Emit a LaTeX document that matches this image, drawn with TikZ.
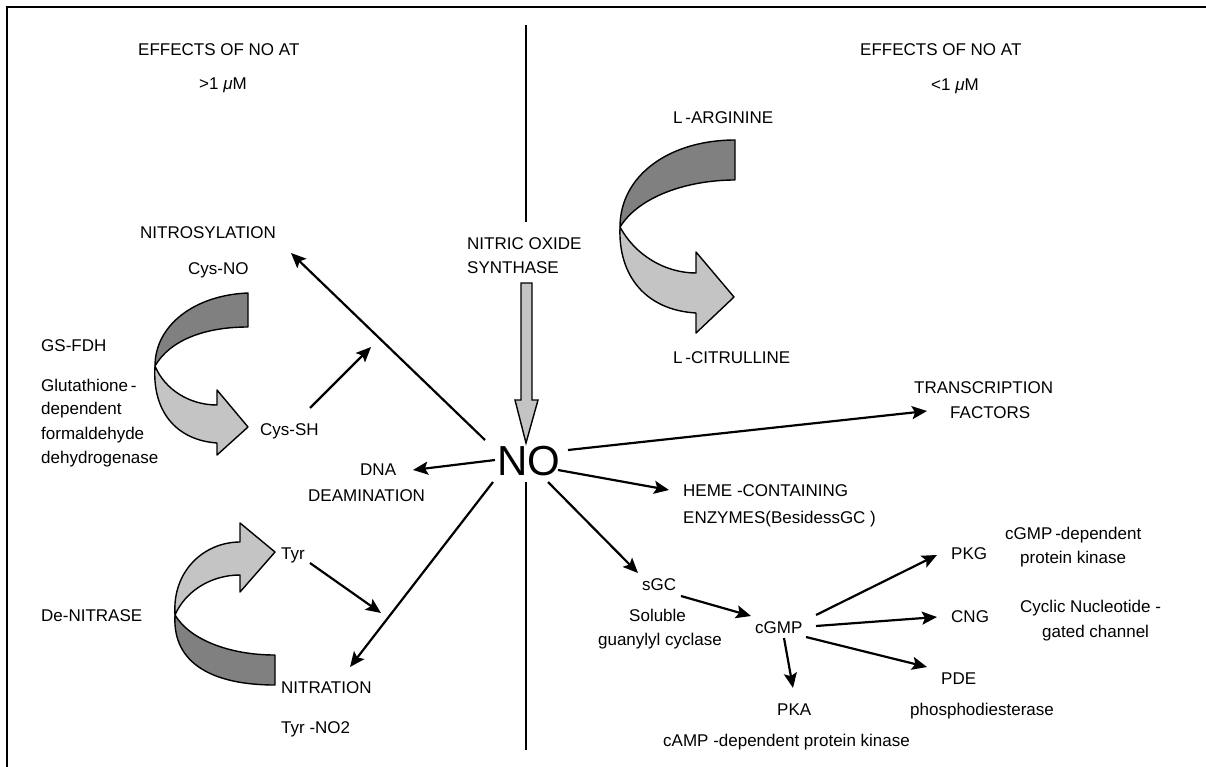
\documentclass[tikz,border=0pt]{standalone}
\usepackage{fontspec}
\setmainfont{Liberation Sans}
\usetikzlibrary{arrows.meta}
\definecolor{bandDark}{RGB}{128,128,128}
\definecolor{bandLight}{RGB}{196,196,196}
\tikzset{
  lbl/.style={inner sep=0pt, anchor=base west, font=\fontsize{17}{20}\selectfont},
  clbl/.style={inner sep=0pt, anchor=base, font=\fontsize{17}{20}\selectfont},
  conn/.style={line width=2.2pt, -{Stealth[length=15pt,width=13pt,inset=3pt]}},
  plain/.style={line width=2.2pt},
  band/.style={draw=black, line width=1.4pt, line join=round},
}
\begin{document}
\begin{tikzpicture}[x=1pt,y=-1pt]
\useasboundingbox (0,0) rectangle (1206,767);
% frame (top and left)
\draw[line width=1.5pt] (7,767) -- (7,7) -- (1206,7);
% central divider
\coordinate (vtop) at (526,25);
\coordinate (vmid) at (526,222);
\coordinate (vlow) at (526,482);
\coordinate (vbot) at (526,750);
\draw[plain] (vtop) -- (vmid);
\draw[plain] (vlow) -- (vbot);

% headings
\node[lbl] (effL) at (138,56) {EFFECTS OF NO AT};
\node[lbl] (concL) at (199,90) {>1 {\itshape μ}M};
\node[lbl] (effR) at (860,56) {EFFECTS OF NO AT};
\node[lbl] (concR) at (931,91) {<1 {\itshape μ}M};

% right top: arginine -> citrulline
\node[lbl] (arg) at (673,124) {L\,-ARGININE};
\node[lbl] (cit) at (673,363) {L\,-CITRULLINE};
\fill[bandDark] (735,140) .. controls (670,140) and (620,175) .. (620,227) .. controls (640,195) and (690,180) .. (735,180) -- cycle;
\draw[band] (735,140) .. controls (670,140) and (620,175) .. (620,227) .. controls (640,195) and (690,180) .. (735,180) -- cycle;
\filldraw[band, fill=bandLight] (620,227) .. controls (635,255) and (665,273) .. (696,273) -- (696,252) -- (734,297) -- (696,333) -- (696,313) .. controls (645,310) and (618,275) .. (620,227) -- cycle;

% NOS and NO
\node[lbl] (nos1) at (467,249) {NITRIC OXIDE};
\node[lbl] (nos2) at (467,273) {SYNTHASE};
\filldraw[draw=black, line width=1.4pt, fill=bandLight, line join=miter]
  (521,283) -- (532,283) -- (532,400) -- (538,400) -- (526,443) -- (515,400) -- (521,400) -- cycle;
\node[inner sep=0pt, anchor=base, font=\fontsize{42}{44}\selectfont] (no) at (529,475) {NO};

% left: nitrosylation
\node[lbl] (nitros) at (140,238) {NITROSYLATION};
\node[lbl] (cysno) at (188,274) {Cys-NO};
\node[lbl] (gsfdh) at (41,351) {GS-FDH};
\node[lbl] (glu1) at (41,391) {Glutathione\,-};
\node[lbl] (glu2) at (41,414) {dependent};
\node[lbl] (glu3) at (41,439) {formaldehyde};
\node[lbl] (glu4) at (41,463) {dehydrogenase};
\node[lbl] (cyssh) at (260,435) {Cys-SH};
\fill[bandDark] (248,293) .. controls (195,295) and (155,325) .. (155,366) .. controls (170,340) and (205,327) .. (248,327) -- cycle;
\draw[band] (248,293) .. controls (195,295) and (155,325) .. (155,366) .. controls (170,340) and (205,327) .. (248,327) -- cycle;
\filldraw[band, fill=bandLight] (155,366) .. controls (165,390) and (190,405) .. (217,405) -- (217,390) -- (248,427) -- (217,455) -- (217,443) .. controls (175,440) and (152,410) .. (155,366) -- cycle;

% DNA
\node[lbl] (dna1) at (360,475) {DNA};
\node[lbl] (dna2) at (308,501) {DEAMINATION};

% nitration
\node[lbl] (tyr) at (281,559) {Tyr};
\node[lbl] (denit) at (41,621) {De-NITRASE};
\node[lbl] (nitra) at (281,693) {NITRATION};
\node[lbl] (tyrno) at (281,733) {Tyr -NO2};
\filldraw[band, fill=bandLight] (175,615) .. controls (172,570) and (205,542) .. (240,542) -- (240,523) -- (275,552) -- (240,592) -- (240,575) .. controls (210,575) and (185,592) .. (175,615) -- cycle;
\fill[bandDark] (175,615) .. controls (190,640) and (230,655) .. (275,655) -- (275,685) .. controls (215,685) and (172,665) .. (175,615) -- cycle;
\draw[band] (175,615) .. controls (190,640) and (230,655) .. (275,655) -- (275,685) .. controls (215,685) and (172,665) .. (175,615) -- cycle;

% right side targets
\node[lbl] (trans1) at (914,393) {TRANSCRIPTION};
\node[lbl] (trans2) at (950,418) {FACTORS};
\node[lbl] (heme1) at (683,496) {HEME -CONTAINING};
\node[lbl] (heme2) at (683,523) {ENZYMES(BesidessGC )};
\node[lbl] (sgc) at (642,590) {sGC};
\node[lbl] (sol1) at (629,621) {Soluble};
\node[clbl] (sol2) at (660,645) {guanylyl cyclase};
\node[lbl] (cgmp) at (755,633) {cGMP};
\node[lbl] (pkg) at (951,559) {PKG};
\node[lbl] (pkg1) at (1005,539) {cGMP\,-dependent};
\node[lbl] (pkg2) at (1020,563) {protein kinase};
\node[lbl] (cng) at (951,622) {CNG};
\node[lbl] (cng1) at (1020,612) {Cyclic Nucleotide -};
\node[lbl] (cng2) at (1042,637) {gated channel};
\node[lbl] (pde) at (941,684) {PDE};
\node[lbl] (pde1) at (910,715) {phosphodiesterase};
\node[lbl] (pka) at (777,715) {PKA};
\node[lbl] (pka1) at (663,746) {cAMP -dependent protein kinase};

% connector end points
\coordinate (noNW) at (485,440);
\coordinate (nitrosTip) at (291,253);
\coordinate (cysshStart) at (310,408);
\coordinate (cysshTip) at (371,347);
\coordinate (noW) at (495,460);
\coordinate (dnaTip) at (413,470);
\coordinate (tyrStart) at (310,563);
\coordinate (tyrTip) at (381,613);
\coordinate (noSW) at (493,482);
\coordinate (nitraTip) at (350,667);
\coordinate (noNE) at (568,450);
\coordinate (transTip) at (927,411);
\coordinate (noE) at (558,470);
\coordinate (hemeTip) at (669,490);
\coordinate (noSE) at (548,482);
\coordinate (sgcTip) at (638,573);
\coordinate (sgcOut) at (681,596);
\coordinate (cgmpIn) at (751,616);
\coordinate (cgmpNE) at (816,615);
\coordinate (pkgTip) at (937,555);
\coordinate (cgmpE) at (816,626);
\coordinate (cngTip) at (937,617);
\coordinate (cgmpSE) at (806,637);
\coordinate (pdeTip) at (927,667);
\coordinate (cgmpS) at (784,638);
\coordinate (pkaTip) at (793,688);

\draw[conn] (noNW) -- (nitrosTip);
\draw[conn] (cysshStart) -- (cysshTip);
\draw[conn] (noW) -- (dnaTip);
\draw[conn] (tyrStart) -- (tyrTip);
\draw[conn] (noSW) -- (nitraTip);
\draw[conn] (noNE) -- (transTip);
\draw[conn] (noE) -- (hemeTip);
\draw[conn] (noSE) -- (sgcTip);
\draw[conn] (sgcOut) -- (cgmpIn);
\draw[conn] (cgmpNE) -- (pkgTip);
\draw[conn] (cgmpE) -- (cngTip);
\draw[conn] (cgmpSE) -- (pdeTip);
\draw[conn] (cgmpS) -- (pkaTip);
\end{tikzpicture}
\end{document}
